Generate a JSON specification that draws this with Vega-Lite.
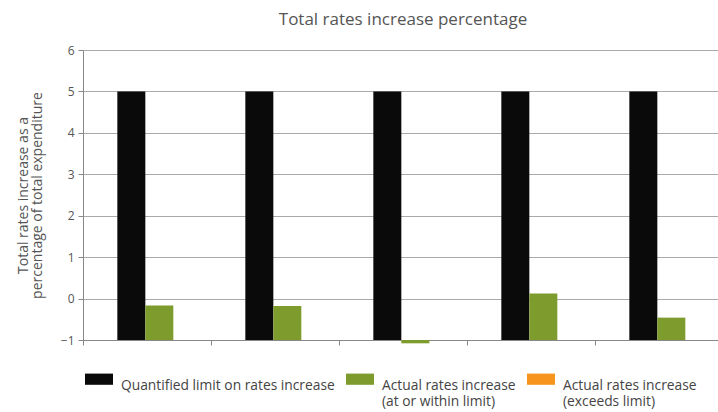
{
  "$schema": "https://vega.github.io/schema/vega-lite/v6.json",
  "width": 640,
  "height": 290,
  "autosize": {"type": "none"},
  "padding": {"left": 83, "top": 50, "right": 0, "bottom": 72},
  "background": "white",
  "title": {
    "text": "Total rates increase percentage",
    "font": "Open Sans",
    "fontSize": 17,
    "fontWeight": "normal",
    "color": "#555555",
    "offset": 15
  },
  "config": {
    "view": {"stroke": null},
    "font": "Open Sans"
  },
  "data": {
    "values": [
      {"group": "1", "series": "Quantified limit on rates increase", "value": 5},
      {"group": "1", "series": "Actual rates increase (at or within limit)", "value": -0.17},
      {"group": "2", "series": "Quantified limit on rates increase", "value": 5},
      {"group": "2", "series": "Actual rates increase (at or within limit)", "value": -0.18},
      {"group": "3", "series": "Quantified limit on rates increase", "value": 5},
      {"group": "3", "series": "Actual rates increase (at or within limit)", "value": -1.08},
      {"group": "4", "series": "Quantified limit on rates increase", "value": 5},
      {"group": "4", "series": "Actual rates increase (at or within limit)", "value": 0.12},
      {"group": "5", "series": "Quantified limit on rates increase", "value": 5},
      {"group": "5", "series": "Actual rates increase (at or within limit)", "value": -0.46}
    ]
  },
  "mark": {"type": "bar", "clip": false},
  "encoding": {
    "x": {
      "field": "group",
      "type": "nominal",
      "scale": {"paddingInner": 0, "paddingOuter": 0},
      "axis": {
        "title": null,
        "labels": false,
        "bandPosition": 0,
        "ticks": true,
        "tickSize": 5,
        "tickColor": "#888888",
        "domainColor": "#888888",
        "grid": false
      }
    },
    "xOffset": {
      "field": "series",
      "type": "nominal",
      "scale": {
        "domain": [
          "Quantified limit on rates increase",
          "Actual rates increase (at or within limit)",
          "Actual rates increase (exceeds limit)"
        ],
        "paddingInner": 0,
        "paddingOuter": 0.786,
        "align": 0.78
      }
    },
    "y": {
      "field": "value",
      "type": "quantitative",
      "scale": {"domain": [-1, 6], "nice": false, "zero": false},
      "axis": {
        "values": [-1, 0, 1, 2, 3, 4, 5, 6],
        "title": ["Total rates increase as a", "percentage of total expenditure"],
        "titleFont": "Open Sans",
        "titleFontSize": 14,
        "titleLineHeight": 14,
        "titleFontWeight": "normal",
        "titleColor": "#555555",
        "titlePadding": 16,
        "labelFont": "Open Sans",
        "labelFontSize": 12,
        "labelColor": "#555555",
        "labelPadding": 4,
        "tickSize": 5,
        "tickColor": "#888888",
        "domainColor": "#888888",
        "grid": true,
        "gridColor": "#aaaaaa"
      }
    },
    "y2": {"datum": -1},
    "color": {
      "field": "series",
      "type": "nominal",
      "scale": {
        "domain": [
          "Quantified limit on rates increase",
          "Actual rates increase (at or within limit)",
          "Actual rates increase (exceeds limit)"
        ],
        "range": ["#0a0a0a", "#7e9c2e", "#f7941d"]
      },
      "legend": {
        "title": null,
        "orient": "none",
        "legendX": 2,
        "legendY": 315,
        "direction": "horizontal",
        "symbolType": "M-1,-0.4H1V0.4H-1Z",
        "symbolSize": 784,
        "symbolStrokeWidth": 0,
        "symbolOpacity": 1,
        "labelFont": "Open Sans",
        "labelFontSize": 13.8,
        "labelLineHeight": 15.5,
        "labelBaseline": "top",
        "labelColor": "#444444",
        "labelOffset": 8,
        "labelLimit": 400,
        "columnPadding": 11,
        "labelExpr": "indexof(datum.label, ' (') >= 0 ? split(replace(datum.label, ' (', '|('), '|') : [datum.label, ' ']"
      }
    }
  }
}
